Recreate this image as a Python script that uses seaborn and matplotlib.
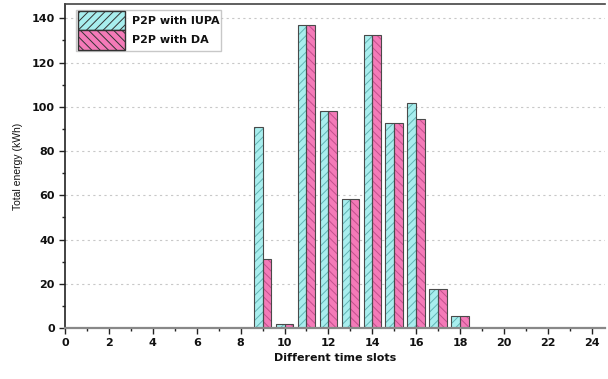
import matplotlib
matplotlib.use("Agg")
import matplotlib.pyplot as plt
from matplotlib.patches import Patch
from matplotlib.ticker import MultipleLocator
import seaborn as sns
import pandas as pd

slots = [9, 10, 11, 12, 13, 14, 15, 16, 17, 18]
iupa = [91, 2, 137, 98, 58.5, 132.5, 92.5, 101.5, 17.5, 5.2]
da = [31, 2, 137, 98, 58.5, 132.5, 92.5, 94.5, 17.5, 5.2]
series = ["P2P with IUPA", "P2P with DA"]
colors = ["#a8eeee", "#f47ab8"]
hatch_colors = ["#62b4b4", "#c2508c"]
hatches = ["////", "\\\\\\\\"]

df = pd.DataFrame({
    "slot": slots * 2,
    "energy": iupa + da,
    "series": [series[0]] * len(slots) + [series[1]] * len(slots),
})

sns.set_theme(style="white")
plt.rcParams["font.family"] = ["DejaVu Sans"]
plt.rcParams["hatch.linewidth"] = 0.7

fig = plt.figure(figsize=(6.08, 3.79), dpi=100)
ax = fig.add_axes([0.107, 0.1346, 0.888, 0.855])

# filled, hatched bars
sns.barplot(data=df, x="slot", y="energy", hue="series", hue_order=series,
            palette=colors, native_scale=True, width=0.8, ax=ax,
            legend=False, saturation=1)
for cont, hc, h in zip(ax.containers, hatch_colors, hatches):
    for p in cont:
        p.set_hatch(h)
        p.set_edgecolor(hc)
        p.set_linewidth(0)

# dark outlines on top
sns.barplot(data=df, x="slot", y="energy", hue="series", hue_order=series,
            native_scale=True, width=0.8, ax=ax, legend=False,
            fill=False, palette=["#4a4a4a", "#4a4a4a"])
for cont in ax.containers[2:]:
    for p in cont:
        p.set_facecolor("none")
        p.set_edgecolor("#4a4a4a")
        p.set_linewidth(0.8)

ax.set_xlim(0, 24.6)
ax.set_ylim(0, 146.5)
ax.xaxis.set_major_locator(MultipleLocator(2))
ax.xaxis.set_minor_locator(MultipleLocator(1))
ax.yaxis.set_major_locator(MultipleLocator(20))
ax.yaxis.set_minor_locator(MultipleLocator(10))
ax.tick_params(axis="both", which="major", direction="out", length=4, width=1,
               labelsize=8, bottom=True, left=True, color="#222222",
               labelcolor="#111111")
ax.tick_params(axis="both", which="minor", direction="out", length=2.5, width=1,
               bottom=True, left=True, color="#222222")
for lab in ax.get_xticklabels() + ax.get_yticklabels():
    lab.set_fontweight("bold")

ax.grid(axis="y", which="major", linestyle=(0, (2, 3)), color="#c8c8c8", linewidth=0.8)
ax.set_axisbelow(True)

for s in ["left", "top", "bottom"]:
    ax.spines[s].set_visible(True)
    ax.spines[s].set_linewidth(1.2)
ax.spines["left"].set_color("#222222")
ax.spines["top"].set_color("#444444")
ax.spines["bottom"].set_color("#888888")
ax.spines["bottom"].set_linewidth(1.6)
ax.spines["right"].set_visible(False)

ax.set_xlabel("Different time slots", fontsize=8, fontweight="bold", color="#111111")
ax.set_ylabel("Total energy (kWh)", fontsize=7.5, family="Liberation Sans", color="#111111")
ax.xaxis.labelpad = 3
ax.yaxis.labelpad = 6

handles = [Patch(facecolor=c, edgecolor=e, hatch=h, linewidth=0)
           for c, e, h in zip(colors, hatch_colors, hatches)]
leg = ax.legend(handles, series, loc="upper left", bbox_to_anchor=(0.021, 0.982),
                prop={"size": 8, "weight": "bold"}, handlelength=4.3, handleheight=2.3,
                borderpad=0.1, labelspacing=0.0, handletextpad=0.6,
                frameon=True, fancybox=False, edgecolor="#bbbbbb", borderaxespad=0)
for p in leg.get_patches():
    p.set_edgecolor("#333333")
    p.set_linewidth(1.0)
for t in leg.get_texts():
    t.set_color("#111111")

fig.savefig("out.png", dpi=100)
